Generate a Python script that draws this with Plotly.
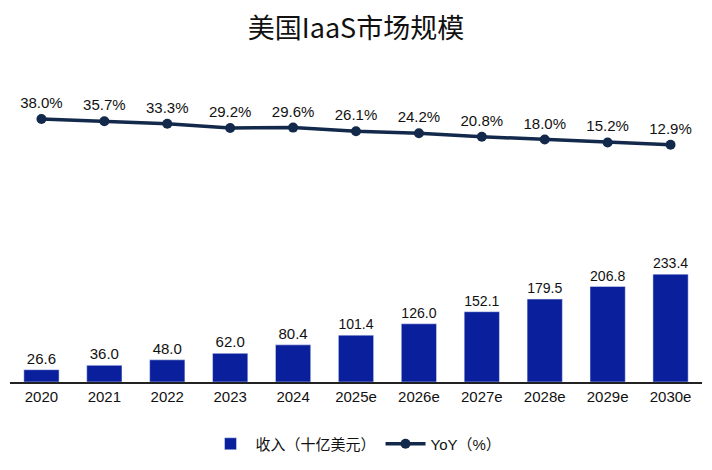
import plotly.graph_objects as go

years = ["2020", "2021", "2022", "2023", "2024", "2025e", "2026e", "2027e", "2028e", "2029e", "2030e"]
revenue = [26.6, 36.0, 48.0, 62.0, 80.4, 101.4, 126.0, 152.1, 179.5, 206.8, 233.4]
yoy = [38.0, 35.7, 33.3, 29.2, 29.6, 26.1, 24.2, 20.8, 18.0, 15.2, 12.9]

FONT = "Arial, Liberation Sans, Noto Sans CJK SC, sans-serif"
BAR_C = "#0a1f9c"
LINE_C = "#13294b"

fig = go.Figure()
fig.add_trace(go.Bar(
    x=years, y=revenue, name="收入（十亿美元）",
    marker=dict(color=BAR_C),
    text=[f"{v:.1f}" for v in revenue], textposition="outside",
    textfont=dict(size=15, color="#111111", family=FONT),
    cliponaxis=False, width=0.56,
))
fig.add_trace(go.Scatter(
    x=years, y=yoy, name="YoY（%）", yaxis="y2",
    mode="lines+markers+text",
    line=dict(color=LINE_C, width=3.5),
    marker=dict(color=LINE_C, size=10),
    text=[f"{v:.1f}%" for v in yoy], textposition="top center",
    textfont=dict(size=15, color="#111111", family=FONT),
    cliponaxis=False,
))

fig.update_layout(
    width=696, height=454,
    margin=dict(l=2, r=2, t=64, b=67),
    paper_bgcolor="white", plot_bgcolor="white",
    font=dict(family=FONT, color="#111111"),
    title=dict(text="美国IaaS市场规模", x=0.5, xanchor="center", y=0.955, yanchor="middle",
               font=dict(size=27, color="#111111", family="Noto Sans CJK SC, sans-serif")),
    xaxis=dict(range=[-0.5, 10.5], showgrid=False, showline=True, linecolor="#222222", linewidth=1.5,
               ticks="", tickfont=dict(size=15, color="#111111"), fixedrange=True, automargin=False),
    yaxis=dict(range=[0, 671], visible=False, showgrid=False),
    yaxis2=dict(range=[-217, 83.5], overlaying="y", visible=False, showgrid=False),
    showlegend=True,
    legend=dict(orientation="h", x=0.5, xanchor="center", y=-0.2, yanchor="middle",
                font=dict(size=15, color="#111111", family=FONT), itemwidth=40),
)

fig.write_html("out.html")
